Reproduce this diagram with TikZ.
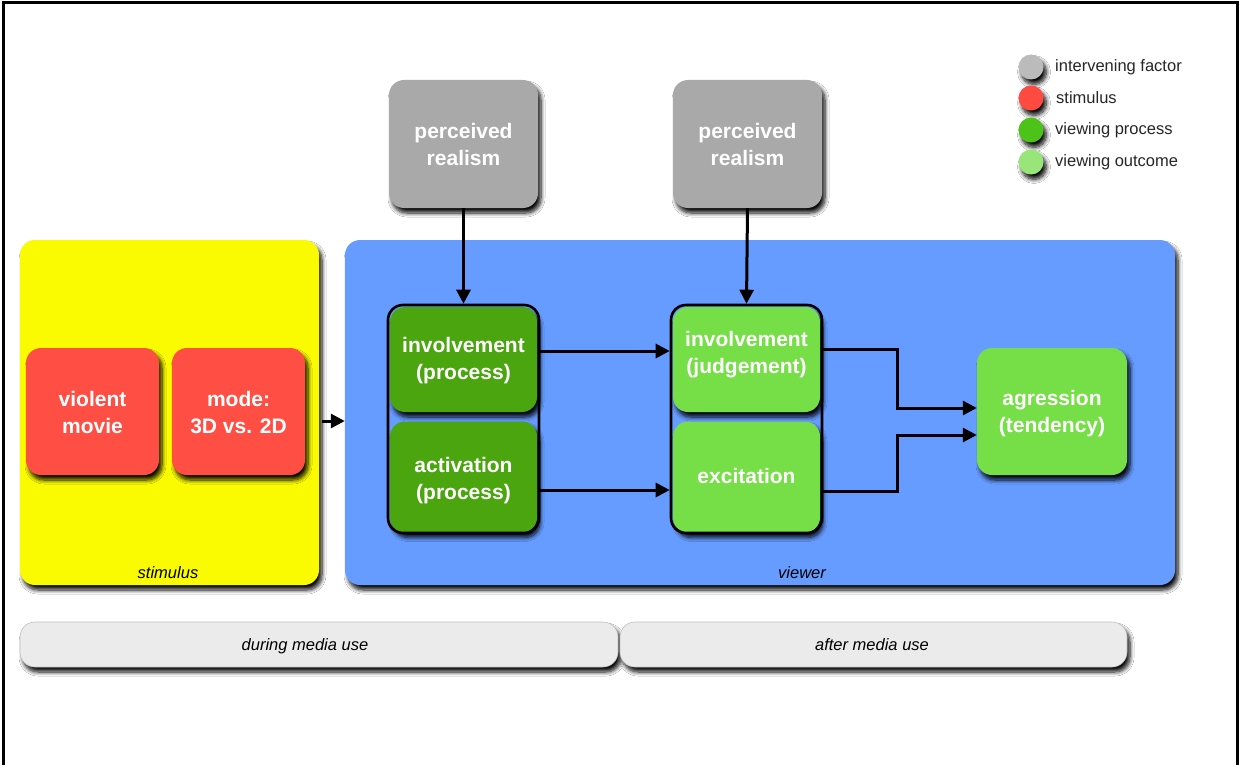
\documentclass[tikz,border=0pt]{standalone}
\usepackage{fontspec}
\setmainfont{Liberation Sans}
\usetikzlibrary{shadows.blur,arrows.meta}
\definecolor{cyellow}{HTML}{FAFA00}
\definecolor{cblue}{HTML}{669BFF}
\definecolor{cred}{HTML}{FF4F44}
\definecolor{cgray}{HTML}{A9A9A9}
\definecolor{cdgreen}{HTML}{4AA50F}
\definecolor{clgreen}{HTML}{76DE47}
\definecolor{cbar}{HTML}{EBEBEB}
\definecolor{lgray}{HTML}{BBBBBB}
\definecolor{lred}{HTML}{FF4A42}
\definecolor{lgreen}{HTML}{4DC31A}
\definecolor{llgreen}{HTML}{98E57A}
\tikzset{
  shad/.style={blur shadow={shadow xshift=3pt, shadow yshift=-5pt, shadow blur radius=4pt, shadow blur steps=8, shadow opacity=95}},
  boxx/.style={rectangle, rounded corners=15pt, inner sep=0pt, shad},
  btxt/.style={align=center, text=white, inner sep=0pt, font=\fontsize{21}{27}\selectfont\bfseries},
  area/.style={rectangle, rounded corners=15pt, inner sep=0pt, shad},
  grp/.style={rectangle, rounded corners=15pt, inner sep=0pt, draw=black, line width=2.6pt},
  lab/.style={font=\fontsize{16.5}{18}\selectfont\itshape, text=black},
  bar/.style={rectangle, rounded corners=15pt, inner sep=0pt, fill=cbar, draw=black!25, line width=0.6pt, shad},
  arr/.style={line width=3pt, -{Triangle[length=14pt,width=14pt]}},
  dot/.style={circle, minimum size=25pt, inner sep=0pt, shad},
  legtxt/.style={anchor=west, font=\fontsize{16.5}{19}\selectfont, text=black!85, inner sep=0pt},
}
\begin{document}
\begin{tikzpicture}[x=1pt,y=-1pt]
\useasboundingbox (0,0) rectangle (1239,765);
\fill[white] (0,0) rectangle (1239,765);
\draw[line width=3pt] (3,775) -- (3,3) -- (1237,3) -- (1237,775);
% areas
\node[area, fill=cyellow, minimum width=299pt, minimum height=345pt] (stim) at (169.5,412.5) {};
\node[area, fill=cblue, minimum width=830pt, minimum height=345pt] (view) at (760,412.5) {};
\node[lab] (stimlab) at (168,573) {stimulus};
\node[lab] (viewlab) at (802,573) {viewer};
% stimulus boxes
\node[boxx, fill=cred, minimum width=133pt, minimum height=127pt] (vm) at (92.5,411.5) {};
\node[btxt] (vmt) at (92.5,412.5) {violent\\movie};
\node[boxx, fill=cred, minimum width=133pt, minimum height=127pt] (mode) at (238.5,411.5) {};
\node[btxt] (modet) at (238.5,412.5) {mode:\\3D vs. 2D};
% perceived realism
\node[boxx, fill=cgray, minimum width=149pt, minimum height=128pt] (pr1) at (463.5,144) {};
\node[btxt] (pr1t) at (463.5,144) {perceived\\realism};
\node[boxx, fill=cgray, minimum width=149pt, minimum height=128pt] (pr2) at (747.5,144) {};
\node[btxt] (pr2t) at (747.5,144) {perceived\\realism};
% process group
\node[boxx, fill=cdgreen, minimum width=147pt, minimum height=105pt] (ip) at (463.5,359.5) {};
\node[btxt] (ipt) at (463.5,360.5) {involvement\\(process)};
\node[boxx, fill=cdgreen, minimum width=147pt, minimum height=111pt] (ap) at (463.5,477) {};
\node[btxt] (apt) at (463.5,480.5) {activation\\(process)};
\node[grp, minimum width=151pt, minimum height=228pt] (g1) at (463.5,419) {};
% outcome group
\node[boxx, fill=clgreen, minimum width=147pt, minimum height=105pt] (ij) at (746.5,359.5) {};
\node[btxt] (ijt) at (746.5,354.5) {involvement\\(judgement)};
\node[boxx, fill=clgreen, minimum width=147pt, minimum height=111pt] (ex) at (746.5,477) {};
\node[btxt] (ext) at (746.5,476) {excitation};
\node[grp, minimum width=151pt, minimum height=228pt] (g2) at (746.5,419) {};
% aggression
\node[boxx, fill=clgreen, minimum width=150pt, minimum height=127pt] (ag) at (1052,411.5) {};
\node[btxt] (agt) at (1052,413.5) {agression\\(tendency)};
% arrows
\draw[arr] (pr1.south) -- (g1.north);
\draw[arr] (pr2.south) -- (g2.north);
\draw[arr] ([xshift=3pt]stim.east |- 0,421) -- (view.west |- 0,421);
\draw[arr] (g1.east |- 0,351) -- (g2.west |- 0,351);
\draw[arr] (g1.east |- 0,490) -- (g2.west |- 0,490);
\draw[arr] (g2.east |- 0,349) -- (897,349) -- (897,408) -- (ag.west |- 0,408);
\draw[arr] (g2.east |- 0,491) -- (897,491) -- (897,435) -- (ag.west |- 0,435);
% bars
\node[bar, minimum width=598pt, minimum height=45pt] (during) at (319,644.5) {};
\node[lab, anchor=base] (duringt) at (305,650) {during media use};
\node[bar, minimum width=507pt, minimum height=45pt] (after) at (873.5,644.5) {};
\node[lab, anchor=base] (aftert) at (872,650) {after media use};
% legend
\node[dot, fill=lgray] (d1) at (1031,67) {};
\node[dot, fill=lred] (d2) at (1031,98) {};
\node[dot, fill=lgreen] (d3) at (1031,130) {};
\node[dot, fill=llgreen] (d4) at (1031,162) {};
\node[legtxt] (t1) at (1055,67) {intervening factor};
\node[legtxt] (t2) at (1056,98) {stimulus};
\node[legtxt] (t3) at (1055,130) {viewing process};
\node[legtxt] (t4) at (1055,162) {viewing outcome};
\end{tikzpicture}
\end{document}
